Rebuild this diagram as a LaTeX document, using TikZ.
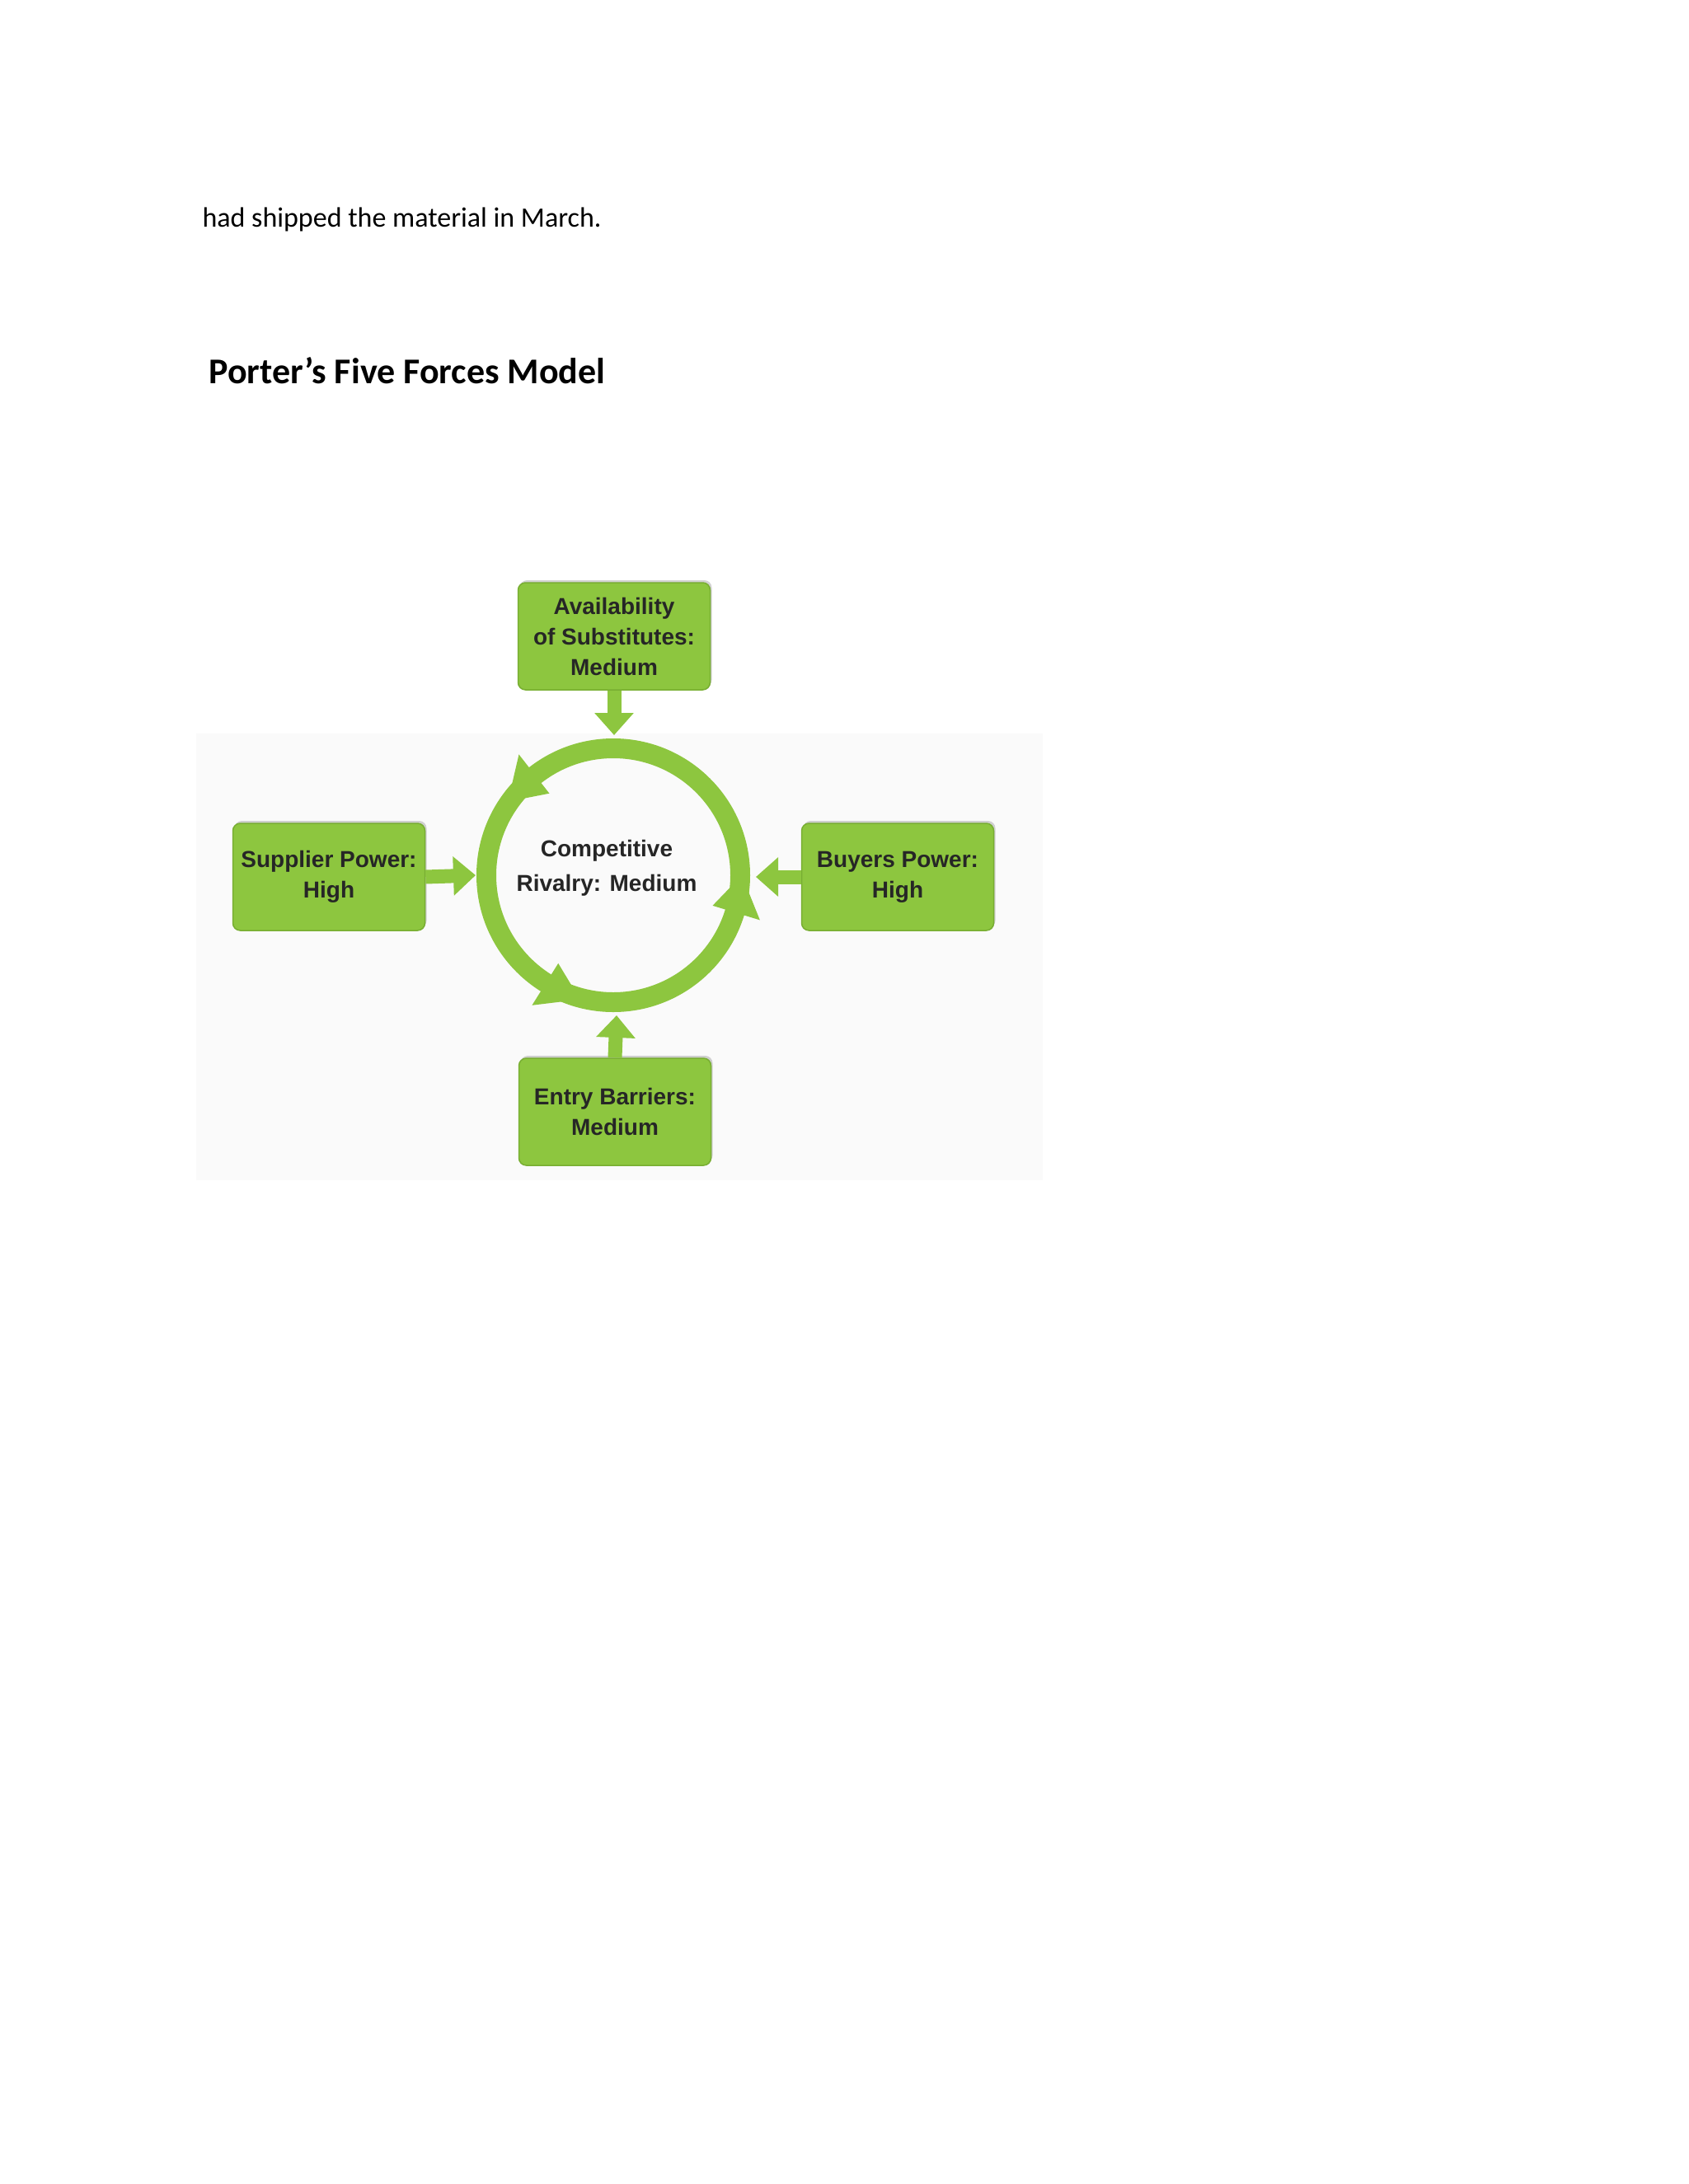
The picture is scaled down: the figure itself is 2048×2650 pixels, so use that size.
\documentclass[tikz,border=0pt]{standalone}
\usepackage{fontspec}
\setmainfont{Carlito}
\newfontfamily\diag{Liberation Sans}
\usetikzlibrary{arrows.meta,shadows,calc}
\definecolor{grn}{HTML}{8DC63F}
\definecolor{grnd}{HTML}{78AE32}
\begin{document}
\begin{tikzpicture}[x=1pt,y=-1pt,
  forcebox/.style={draw=grnd,line width=1.5,fill=grn,rounded corners=9,minimum width=233,minimum height=130,align=center,
    font=\diag\bfseries\fontsize{28}{37}\selectfont,text=black!85,drop shadow={shadow xshift=2,shadow yshift=-3,opacity=0.35}},
  forcearrow/.style={draw=grn,line width=17,-{Triangle[length=27,width=46]}}]
\useasboundingbox (0,0) rectangle (2048,2650);
\fill[black!2] (238,890) rectangle (1265,1432);
\node[anchor=west,font=\fontsize{34}{40}\selectfont] (txt) at (242,266) {had shipped the material in March.};
\node[anchor=west,font=\bfseries\fontsize{44}{50}\selectfont] (ttl) at (250,450) {Porter’s Five Forces Model};
\node[forcebox] (top) at (745,772) {Availability\\of Substitutes:\\Medium};
\node[forcebox] (sup) at (399,1064) {Supplier Power:\\High};
\node[forcebox] (buy) at (1089,1064) {Buyers Power:\\High};
\node[forcebox] (ent) at (746,1349) {Entry Barriers:\\Medium};
\coordinate (c) at (744,1062);
\draw[grn,line width=24] (c) circle[radius=154];
\foreach \a in {-128,-238,-343}{
  \fill[grn] ($(c)+(\a:126)$) -- ($(c)+(\a:186)$) -- ($(c)+({\a-17}:156)$) -- cycle;
}
\node[align=center,font=\diag\bfseries\fontsize{28}{42}\selectfont,text=black!85] (mid) at (736,1053) {Competitive\\Rivalry: Medium};
\coordinate (ta) at (745,892);
\coordinate (la) at (577,1062);
\coordinate (ra) at (917,1064);
\coordinate (ba) at (748,1232);
\draw[forcearrow] (top.south) -- (ta);
\draw[forcearrow] (sup.east) -- (la);
\draw[forcearrow] (buy.west) -- (ra);
\draw[forcearrow] (ent.north) -- (ba);
\end{tikzpicture}
\end{document}
